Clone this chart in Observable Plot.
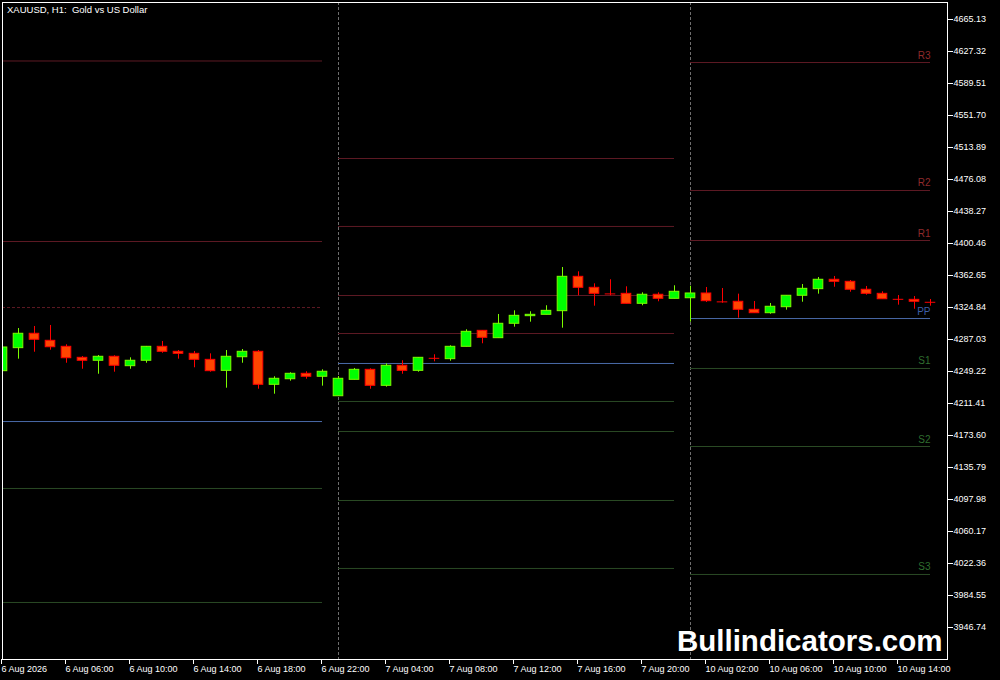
<!DOCTYPE html>
<html><head><meta charset="utf-8">
<script src="https://cdn.jsdelivr.net/npm/d3@7"></script>
<script src="https://cdn.jsdelivr.net/npm/@observablehq/plot@0.6"></script>
<style>
html,body{margin:0;padding:0;background:#000;}
#chart svg{display:block}
</style></head><body><div id="chart"></div>
<script>
// ---- Data (hourly XAUUSD candles, bar index 0..58) ----
const openP = [4249.6,4276.8,4293.8,4285.5,4278.4,4265.4,4261.9,4266.6,4255.5,4261.9,4278.4,4272.5,4270.1,4263.0,4250.0,4266.1,4272.5,4233.5,4240.1,4246.5,4243.0,
  4220.0,4239.4,4251.2,4232.3,4256.0,4250.0,4264.9,4263.8,4278.4,4297.3,4288.6,4305.6,4314.6,4316.2,4320.5,4361.1,4348.1,4341.0,4341.0,4329.2,4339.9,4335.1,
  4335.8,4341.4,4331.6,4331.6,4322.1,4318.1,4325.2,4338.7,4346.5,4357.6,4355.2,4345.8,4341.0,4334.6,4333.9,4331.1];
const highP = [4278.8,4300.0,4302.4,4303.6,4280.8,4266.9,4268.1,4267.8,4265.4,4278.8,4284.7,4274.0,4272.9,4270.1,4274.0,4275.2,4274.0,4243.0,4247.7,4248.9,4251.2,
  4243.3,4252.8,4252.4,4258.3,4261.9,4265.4,4269.0,4279.6,4298.5,4297.6,4316.6,4320.9,4319.8,4326.9,4372.1,4367.0,4352.8,4357.6,4349.3,4342.2,4342.2,4350.5,
  4350.0,4348.5,4347.3,4340.6,4331.9,4329.6,4338.7,4352.0,4360.3,4361.5,4356.7,4349.7,4343.4,4339.0,4337.8,4334.3];
const lowP = [4249.2,4263.8,4272.0,4274.4,4259.0,4251.9,4246.0,4248.4,4251.9,4259.0,4270.8,4263.8,4253.6,4248.4,4229.5,4259.0,4228.3,4222.4,4237.8,4240.1,4231.9,
  4220.0,4239.4,4228.3,4230.7,4246.0,4248.4,4260.7,4261.4,4278.4,4282.0,4288.6,4301.6,4307.5,4316.2,4300.4,4338.7,4326.4,4338.7,4329.2,4326.9,4331.6,4335.1,
  4307.5,4330.8,4329.9,4312.2,4318.1,4316.9,4321.7,4331.1,4340.6,4348.8,4342.9,4339.4,4334.6,4327.6,4322.8,4326.4];
const closeP = [4277.6,4293.8,4286.7,4277.9,4264.9,4261.9,4266.6,4256.0,4261.9,4278.4,4272.5,4270.1,4263.0,4249.6,4266.6,4272.5,4233.5,4240.6,4246.5,4243.0,4248.9,
  4240.6,4251.2,4232.3,4256.0,4250.0,4265.4,4264.8,4278.4,4296.1,4289.0,4305.6,4315.0,4316.2,4320.9,4361.1,4348.1,4341.0,4340.9,4329.2,4339.9,4335.1,4343.4,
  4341.4,4332.3,4331.5,4322.1,4318.1,4325.7,4338.7,4346.9,4357.6,4355.2,4345.8,4341.0,4334.6,4334.5,4331.6,4331.0];

// day boundaries (bar indices)
const dayStart = [0, 21, 43];
const dayEnd = [20, 42, 58];
const daySeparators = [21, 43];

// pivot levels per day
const pivotNames1 = ["R3","R2","R1","PP","S1","S2"];
const pivotVals1  = [4616.1, 4402.8, 4324.8, 4190.1, 4111.0, 3976.3];
const pivotNames2 = ["R3","R2","R1","M3","PP","M2","S1","S2","S3"];
const pivotVals2  = [4500.9, 4420.6, 4339.0, 4294.1, 4258.7, 4213.8, 4178.3, 4096.8, 4016.5];
const pivotNames3 = ["R3","R2","R1","PP","S1","S2","S3"];
const pivotVals3  = [4614.3, 4463.1, 4404.0, 4311.8, 4252.8, 4160.6, 4009.4];

// axis ticks
const yTicks = [4665.13,4627.32,4589.51,4551.70,4513.89,4476.08,4438.27,4400.46,4362.65,4324.84,4287.03,4249.22,4211.41,4173.60,4135.79,4097.98,4060.17,4022.36,3984.55,3946.74];
const xTickIdx = [0,4,8,12,16,20,24,28,32,36,40,44,48,52,56];
const xTickLabels = ["6 Aug 2026","6 Aug 06:00","6 Aug 10:00","6 Aug 14:00","6 Aug 18:00","6 Aug 22:00","7 Aug 04:00","7 Aug 08:00","7 Aug 12:00","7 Aug 16:00","7 Aug 20:00","10 Aug 02:00","10 Aug 06:00","10 Aug 10:00","10 Aug 14:00"];

const titleText = "XAUUSD, H1:\u00a0 Gold vs US Dollar";
const watermark = "Bullindicators.com";

// ---- build tables ----
const candles = openP.map((o, i) => ({i, o, h: highP[i], l: lowP[i], c: closeP[i], up: closeP[i] > o}));
const pivotSets = [[pivotNames1, pivotVals1], [pivotNames2, pivotVals2], [pivotNames3, pivotVals3]];
const pivots = [];
pivotSets.forEach(([names, vals], d) => {
  const pp = vals[names.indexOf("PP")];
  names.forEach((n, k) => pivots.push({day: d + 1, name: n, value: vals[k], start: dayStart[d], end: dayEnd[d],
    kind: vals[k] > pp ? "R" : vals[k] < pp ? "S" : "P"}));
});
const lineColor = {R: "#5e1a24", P: "#4a6aa8", S: "#2a4a24"};
const labelColor = {R: "#8e2a2c", P: "#3d5fa8", S: "#2f6e2f"};
const isDashed = p => p.day === 1 && p.name === "R1";

const bullFill = "#00ff00", bullLine = "#7cfc00", bearFill = "#ff4500", bearLine = "#ff0000";
const isDoji = d => Math.abs(d.c - d.o) < 0.3;

const chart = Plot.plot({
  width: 1000, height: 680,
  marginLeft: 2, marginRight: 53, marginTop: 2, marginBottom: 21,
  style: {background: "#000", color: "#fff", fontFamily: "'Liberation Sans', Arial, sans-serif", fontSize: "9px"},
  x: {type: "linear", domain: [0, 59.0625], axis: null},
  y: {type: "linear", domain: [3908.93, 4685.22], axis: null},
  marks: [
    Plot.ruleX(daySeparators, {x: d => d, stroke: "#6e6e6e", strokeDasharray: "3,2"}),
    Plot.ruleY(pivots.filter(p => !isDashed(p)), {y: "value", x1: "start", x2: "end", stroke: p => lineColor[p.kind]}),
    Plot.ruleY(pivots.filter(isDashed), {y: "value", x1: "start", x2: "end", stroke: p => lineColor[p.kind], strokeDasharray: "3,2"}),
    Plot.text(pivots.filter(p => p.day === 3), {x: "end", y: "value", text: "name", textAnchor: "end", lineAnchor: "bottom", dy: -4, fill: p => labelColor[p.kind], fontSize: 10}),
    Plot.ruleX(candles, {x: "i", y1: "l", y2: "h", stroke: d => d.up ? bullLine : bearLine, clip: true}),
    Plot.rect(candles.filter(d => !isDoji(d)), {x1: d => d.i - 0.3, x2: d => d.i + 0.3, y1: "o", y2: "c",
      fill: d => d.up ? bullFill : bearFill, stroke: d => d.up ? bullLine : bearLine, clip: true}),
    Plot.ruleY(candles.filter(isDoji), {y: "c", x1: d => d.i - 0.33, x2: d => d.i + 0.33, stroke: d => d.up ? bullLine : bearLine, clip: true}),
    Plot.frame({stroke: "#fff"}),
    Plot.axisY(yTicks, {anchor: "right", tickSize: 5, tickPadding: 1, tickFormat: d => d.toFixed(2), fontSize: 9}),
    Plot.axisX(xTickIdx, {anchor: "bottom", tickSize: 5, tickPadding: 1, tickFormat: d => xTickLabels[xTickIdx.indexOf(d)], textAnchor: "start", dx: -1, fontSize: 9}),
    Plot.text([titleText], {frameAnchor: "top-left", dx: 4.5, dy: 4, lineAnchor: "top", textAnchor: "start", fill: "#fff", fontSize: 9.5}),
    Plot.text([watermark], {frameAnchor: "bottom-right", dx: -5, dy: -9, lineAnchor: "bottom", textAnchor: "end", fill: "#fff", fontSize: 29.5, fontWeight: "bold"})
  ]
});
document.getElementById("chart").appendChild(chart);
</script>
</body></html>
